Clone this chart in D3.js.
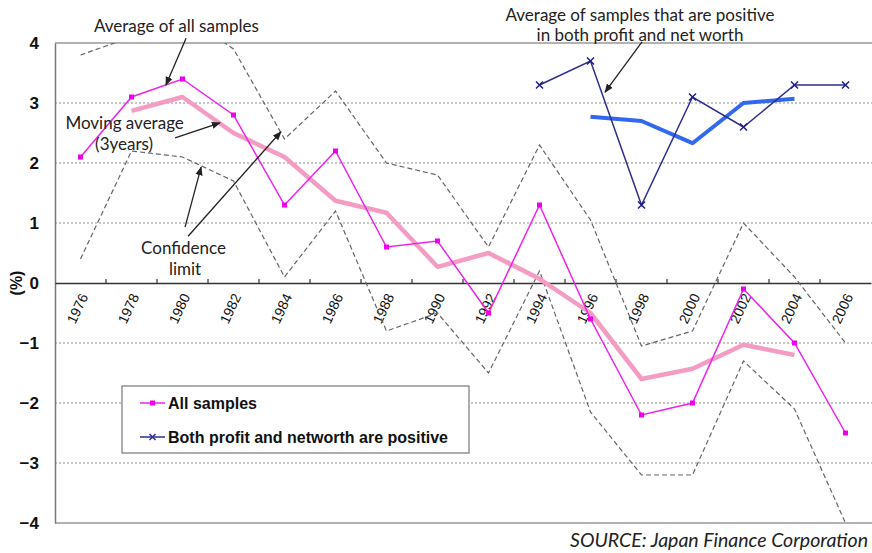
<!DOCTYPE html>
<html><head><meta charset="utf-8">
<script src="https://cdn.jsdelivr.net/npm/d3@7"></script>
<style>
html,body{margin:0;padding:0;background:#fff;}
svg{display:block;}
</style></head>
<body><svg id="c" width="872" height="553"></svg>
<script>
// ---------------- data ----------------
const years = [1976,1978,1980,1982,1984,1986,1988,1990,1992,1994,1996,1998,2000,2002,2004,2006];
const allSamples = [2.1,3.1,3.4,2.8,1.3,2.2,0.6,0.7,-0.5,1.3,-0.6,-2.2,-2.0,-0.1,-1.0,-2.5];
const allMovingAvg = [null,2.87,3.1,2.5,2.1,1.37,1.17,0.27,0.5,0.07,-0.5,-1.6,-1.43,-1.03,-1.2,null];
const upperLimit = [3.8,4.1,4.5,3.9,2.4,3.2,2.0,1.8,0.6,2.3,1.05,-1.05,-0.8,1.0,0.1,-1.0];
const lowerLimit = [0.4,2.2,2.1,1.7,0.1,1.2,-0.8,-0.5,-1.5,0.2,-2.15,-3.2,-3.2,-1.3,-2.1,-4.0];
const positive = [null,null,null,null,null,null,null,null,null,3.3,3.7,1.3,3.1,2.6,3.3,3.3];
const positiveMovingAvg = [null,null,null,null,null,null,null,null,null,null,2.77,2.7,2.33,3.0,3.07,null];
const yTicks = [4,3,2,1,0,-1,-2,-3,-4];
const legendLabels = ["All samples","Both profit and networth are positive"];
const sourceText = "SOURCE: Japan Finance Corporation";

// ---------------- layout ----------------
const svg = d3.select("#c");
const L = 55, R = 871, T = 43, B = 523;
const x = d3.scaleBand().domain(years).range([L, R]).paddingInner(0).paddingOuter(0);
const cx = d => x(d) + x.bandwidth()/2;
const xl = d3.scaleLinear().domain([years[0], years[years.length-1]]).range([cx(years[0]), cx(years[years.length-1])]);
const y = d3.scaleLinear().domain([-4,4]).range([B, T]);
const sans = "'Liberation Sans',Arial,sans-serif";

const defs = svg.append("defs");
defs.append("clipPath").attr("id","clip").append("rect")
  .attr("x",L).attr("y",T).attr("width",R-L+2).attr("height",B-T);
defs.append("marker").attr("id","arr").attr("viewBox","0 0 10 10")
  .attr("refX",9).attr("refY",5).attr("markerWidth",9).attr("markerHeight",9)
  .attr("orient","auto").attr("markerUnits","userSpaceOnUse")
  .append("path").attr("d","M0,1 L10,5 L0,9 Z").attr("fill","#222");

// gridlines
svg.append("g").selectAll("line").data(yTicks.filter(v => v!==0 && v!==4 && v!==-4)).join("line")
  .attr("x1",L).attr("x2",872).attr("y1",d=>y(d)).attr("y2",d=>y(d))
  .attr("stroke","#8a8a8a").attr("stroke-width",1).attr("stroke-dasharray","2,2");
// top / bottom border
svg.append("line").attr("x1",L).attr("x2",872).attr("y1",y(4)).attr("y2",y(4)).attr("stroke","#999").attr("stroke-width",1.5);
svg.append("line").attr("x1",L).attr("x2",872).attr("y1",y(-4)).attr("y2",y(-4)).attr("stroke","#999").attr("stroke-width",1.5);

// y axis
const yAxis = d3.axisLeft(y).tickValues(yTicks).tickSize(0).tickPadding(16).tickFormat(d => d<0 ? "\u2212"+Math.abs(d) : d);
const gy = svg.append("g").attr("transform",`translate(${L},0)`).call(yAxis);
gy.select(".domain").attr("stroke","#777").attr("stroke-width",1.5);
gy.selectAll("text").attr("font-family",sans).attr("font-weight","bold")
  .attr("font-size",17).attr("fill","#111");

svg.append("text").attr("transform",`translate(18,${y(0)}) rotate(-90)`).attr("text-anchor","middle")
  .attr("dominant-baseline","middle").attr("font-family",sans).attr("font-weight","bold")
  .attr("font-size",16).attr("fill","#111").text("(%)");

// x axis at zero
const xAxis = d3.axisBottom(x).tickSize(0).tickPadding(0);
const gx = svg.append("g").attr("transform",`translate(0,${y(0)})`).call(xAxis);
gx.select(".domain").attr("stroke","#333").attr("stroke-width",1.5);
gx.selectAll(".tick text")
  .attr("font-family",sans).attr("font-size",14).attr("fill","#111")
  .attr("text-anchor","middle").attr("dominant-baseline","middle")
  .attr("transform","translate(-2,26) rotate(-65)").attr("y",0).attr("dy",0);
// boundary ticks (pointing up)
svg.append("g").selectAll("line").data(years.slice(1)).join("line")
  .attr("x1",d=>x(d)).attr("x2",d=>x(d)).attr("y1",y(0)-4).attr("y2",y(0))
  .attr("stroke","#333").attr("stroke-width",1.2);

// ---------------- series ----------------
const plot = svg.append("g").attr("clip-path","url(#clip)");
const line = d3.line().defined(d => d[1] !== null).x(d => cx(d[0])).y(d => y(d[1]));
const pairs = arr => years.map((yr,i) => [yr, arr[i]]);

plot.append("path").datum(pairs(upperLimit)).attr("d",line)
  .attr("fill","none").attr("stroke","#666").attr("stroke-width",1.2).attr("stroke-dasharray","5,3");
plot.append("path").datum(pairs(lowerLimit)).attr("d",line)
  .attr("fill","none").attr("stroke","#666").attr("stroke-width",1.2).attr("stroke-dasharray","5,3");

plot.append("path").datum(pairs(allMovingAvg)).attr("d",line)
  .attr("fill","none").attr("stroke","#f59cc4").attr("stroke-width",4.5).attr("stroke-linejoin","round");
plot.append("path").datum(pairs(positiveMovingAvg)).attr("d",line)
  .attr("fill","none").attr("stroke","#3268f0").attr("stroke-width",4).attr("stroke-linejoin","round");

plot.append("path").datum(pairs(allSamples)).attr("d",line)
  .attr("fill","none").attr("stroke","#ee22ee").attr("stroke-width",1.5);
plot.append("g").selectAll("rect").data(pairs(allSamples)).join("rect")
  .attr("x",d=>cx(d[0])-2.5).attr("y",d=>y(d[1])-2.5).attr("width",5).attr("height",5).attr("fill","#ee00ee");

plot.append("path").datum(pairs(positive)).attr("d",line)
  .attr("fill","none").attr("stroke","#2e2e8e").attr("stroke-width",1.5);
const posPts = pairs(positive).filter(d=>d[1]!==null);
plot.append("g").selectAll("path").data(posPts).join("path")
  .attr("d",d=>{const px=cx(d[0]),py=y(d[1]);return `M${px-3.5},${py-3.5}L${px+3.5},${py+3.5}M${px-3.5},${py+3.5}L${px+3.5},${py-3.5}`;})
  .attr("stroke","#1e1e80").attr("stroke-width",1.5);

// ---------------- annotations ----------------
const annFont = "Lato,'Open Sans',sans-serif";
const annTexts = [
  {t:"Average of all samples", yr:1979.76, v:4.18},
  {t:"Moving average", yr:1977.73, v:2.57},
  {t:"(3years)", yr:1977.71, v:2.21},
  {t:"Confidence", yr:1980.04, v:0.49},
  {t:"limit", yr:1980.1, v:0.14},
  {t:"Average of samples that are positive", yr:1997.94, v:4.37},
  {t:"in both profit and net worth", yr:1997.94, v:4.03}
];
svg.append("g").selectAll("text").data(annTexts).join("text")
  .attr("x",d=>xl(d.yr)).attr("y",d=>y(d.v)).attr("text-anchor","middle")
  .attr("font-family",annFont).attr("font-size",17).attr("fill","#222").text(d=>d.t);

const arrows = [
  [1980.14,4.08,1979.35,3.30],
  [1979.71,2.42,1981.47,2.67],
  [1980.10,0.93,1980.73,1.93],
  [1980.22,0.78,1983.86,2.52],
  [1998.02,4.02,1996.57,3.18]
];
svg.append("g").selectAll("line").data(arrows).join("line")
  .attr("x1",d=>xl(d[0])).attr("y1",d=>y(d[1])).attr("x2",d=>xl(d[2])).attr("y2",d=>y(d[3]))
  .attr("stroke","#222").attr("stroke-width",1.3).attr("marker-end","url(#arr)");

// ---------------- legend ----------------
const lg = svg.append("g");
lg.append("rect").attr("x",122).attr("y",386).attr("width",347).attr("height",67)
  .attr("fill","#fff").attr("stroke","#777").attr("stroke-width",1.2);
const legItems = [
  {label:legendLabels[0], color:"#ee22ee", mk:"sq", yy:403},
  {label:legendLabels[1], color:"#2e2e8e", mk:"x", yy:437}
];
legItems.forEach(it=>{
  lg.append("line").attr("x1",140).attr("x2",165).attr("y1",it.yy).attr("y2",it.yy).attr("stroke",it.color).attr("stroke-width",1.5);
  if(it.mk==="sq") lg.append("rect").attr("x",150).attr("y",it.yy-2.5).attr("width",5).attr("height",5).attr("fill","#ee00ee");
  else lg.append("path").attr("d",`M149.5,${it.yy-3}L155.5,${it.yy+3}M149.5,${it.yy+3}L155.5,${it.yy-3}`).attr("stroke",it.color).attr("stroke-width",1.5);
  lg.append("text").attr("x",168).attr("y",it.yy+5.5).attr("font-family",sans)
    .attr("font-weight","bold").attr("font-size",16).attr("fill","#111").text(it.label);
});

// source
svg.append("text").attr("x",868).attr("y",547).attr("text-anchor","end")
  .attr("font-family",annFont).attr("font-style","italic").attr("font-size",19.5).attr("fill","#222").text(sourceText);
</script></body></html>
